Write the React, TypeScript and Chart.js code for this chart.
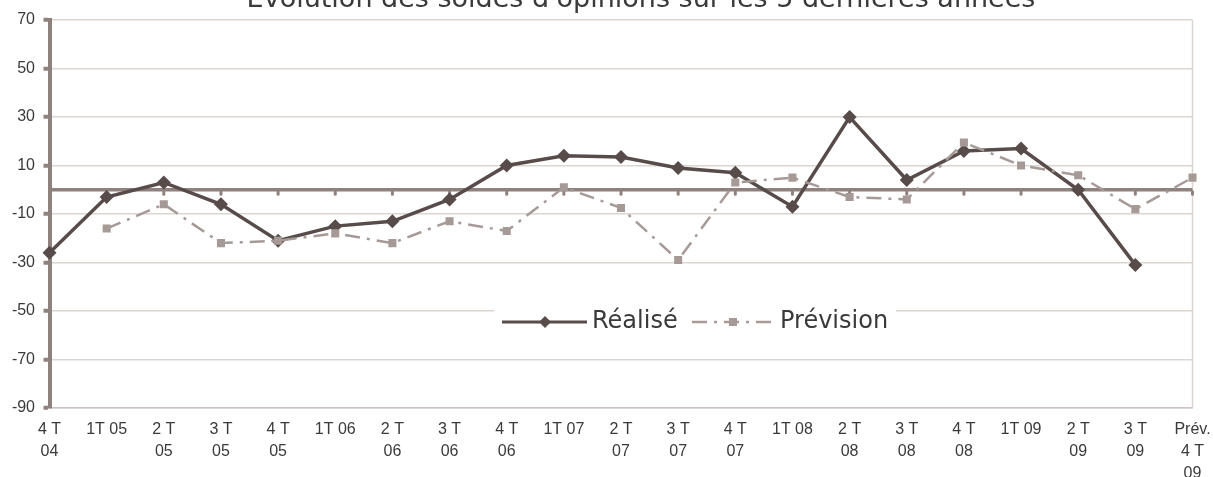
import { useEffect, useRef } from 'react';
import { Chart, registerables } from 'chart.js';

Chart.register(...registerables);

const TITLE = "Evolution des soldes d'opinions sur les 5 dernières années";

const categories: (string | string[])[] = [
  ['4 T', '04'], '1T 05', ['2 T', '05'], ['3 T', '05'], ['4 T', '05'],
  '1T 06', ['2 T', '06'], ['3 T', '06'], ['4 T', '06'],
  '1T 07', ['2 T', '07'], ['3 T', '07'], ['4 T', '07'],
  '1T 08', ['2 T', '08'], ['3 T', '08'], ['4 T', '08'],
  '1T 09', ['2 T', '09'], ['3 T', '09'], ['Prév.', '4 T', '09'],
];

const realise: (number | null)[] = [
  -26, -3, 3, -6, -21, -15, -13, -4, 10, 14, 13.5, 9, 7, -7, 30, 4, 16, 17, 0, -31, null,
];

const prevision: (number | null)[] = [
  null, -16, -6, -22, -21, -18, -22, -13, -17, 1, -7.5, -29, 3, 5, -3, -4, 19.5, 10, 6, -8, 5,
];

const seriesNames = ['Réalisé', 'Prévision'];

const Y_MIN = -90;
const Y_MAX = 70;
const Y_STEP = 20;

const DARK = '#574c49';
const LIGHT = '#a69a97';
const AXIS = '#8f827e';
const GRID = '#dbd5d2';
const TEXT = '#3a3a3a';
const PREV_DASH = [15, 7, 3, 7];

const decorPlugin = {
  id: 'decor',
  beforeDatasetsDraw(chart: any) {
    const { ctx, chartArea, scales } = chart;
    const y0 = scales.y.getPixelForValue(0);
    ctx.save();
    ctx.strokeStyle = GRID;
    ctx.lineWidth = 1.5;
    ctx.beginPath();
    ctx.moveTo(chartArea.right, chartArea.top);
    ctx.lineTo(chartArea.right, chartArea.bottom);
    ctx.stroke();
    ctx.strokeStyle = AXIS;
    ctx.lineWidth = 3.5;
    ctx.beginPath();
    ctx.moveTo(chartArea.left, y0);
    ctx.lineTo(chartArea.right, y0);
    ctx.stroke();
    ctx.lineWidth = 3;
    ctx.lineCap = 'round';
    for (let i = 0; i < categories.length; i++) {
      const x = scales.x.getPixelForValue(i);
      ctx.beginPath();
      ctx.moveTo(x, y0 + 2);
      ctx.lineTo(x, y0 + 4.5);
      ctx.stroke();
    }
    ctx.restore();
  },
  afterDraw(chart: any) {
    const { ctx } = chart;
    ctx.save();
    ctx.fillStyle = TEXT;
    ctx.font = '27px "DejaVu Sans"';
    ctx.textAlign = 'center';
    ctx.textBaseline = 'alphabetic';
    ctx.fillText(TITLE, 641, 7);

    const ly = 322;
    ctx.fillStyle = '#ffffff';
    ctx.fillRect(494, 306, 402, 32);

    ctx.strokeStyle = DARK;
    ctx.lineWidth = 3;
    ctx.beginPath();
    ctx.moveTo(502, ly);
    ctx.lineTo(587, ly);
    ctx.stroke();
    ctx.fillStyle = DARK;
    ctx.beginPath();
    const r = 6;
    ctx.moveTo(545, ly - r);
    ctx.lineTo(545 + r, ly);
    ctx.lineTo(545, ly + r);
    ctx.lineTo(545 - r, ly);
    ctx.closePath();
    ctx.fill();

    ctx.strokeStyle = LIGHT;
    ctx.lineWidth = 2.5;
    ctx.setLineDash(PREV_DASH);
    ctx.beginPath();
    ctx.moveTo(692, ly);
    ctx.lineTo(773, ly);
    ctx.stroke();
    ctx.setLineDash([]);
    ctx.fillStyle = LIGHT;
    ctx.fillRect(733 - 4, ly - 4, 8, 8);

    ctx.fillStyle = TEXT;
    ctx.font = '24px "DejaVu Sans"';
    ctx.textAlign = 'left';
    ctx.textBaseline = 'middle';
    ctx.fillText(seriesNames[0], 592, ly);
    ctx.fillText(seriesNames[1], 780, ly);
    ctx.restore();
  },
};

export default function App() {
  const ref = useRef<HTMLCanvasElement | null>(null);

  useEffect(() => {
    if (!ref.current) return;
    const chart = new Chart(ref.current, {
      type: 'line',
      data: {
        labels: categories as any,
        datasets: [
          {
            label: seriesNames[0],
            data: realise,
            borderColor: DARK,
            backgroundColor: DARK,
            borderWidth: 3.5,
            pointStyle: 'rectRot',
            pointRadius: 7,
            pointBorderWidth: 0,
            tension: 0,
            order: 1,
          },
          {
            label: seriesNames[1],
            data: prevision,
            borderColor: LIGHT,
            backgroundColor: LIGHT,
            borderWidth: 2.5,
            borderDash: PREV_DASH,
            pointStyle: 'rect',
            pointRadius: 5.7,
            pointBorderWidth: 0,
            tension: 0,
            order: 0,
          },
        ],
      },
      options: {
        animation: false,
        responsive: true,
        maintainAspectRatio: false,
        layout: { padding: { top: 20, right: 20.5, left: 0, bottom: 0 } },
        plugins: {
          legend: { display: false },
          title: { display: false },
          tooltip: { enabled: false },
        },
        scales: {
          x: {
            type: 'category',
            offset: false,
            grid: { display: false, drawTicks: false },
            border: { display: true, color: '#cbc3c0', width: 1.5 },
            ticks: {
              autoSkip: false,
              maxRotation: 0,
              minRotation: 0,
              padding: 11,
              color: TEXT,
              font: { family: '"Liberation Sans"', size: 16, lineHeight: 1.36 },
            },
            afterFit: (scale: any) => {
              scale.height = 69;
              scale.paddingLeft = 0;
              scale.paddingRight = 0;
            },
          },
          y: {
            min: Y_MIN,
            max: Y_MAX,
            grid: {
              color: GRID,
              lineWidth: 1.5,
              tickColor: AXIS,
              tickWidth: 4,
              tickLength: 6,
            },
            border: { display: true, color: AXIS, width: 4 },
            ticks: {
              stepSize: Y_STEP,
              padding: 8.5,
              color: TEXT,
              font: { family: '"Liberation Sans"', size: 16 },
            },
            afterFit: (scale: any) => {
              scale.width = 49.5;
            },
          },
        },
      },
      plugins: [decorPlugin],
    });
    return () => chart.destroy();
  }, []);

  return (
    <div style={{ position: 'absolute', left: 0, top: 0, width: 1213, height: 477, background: '#fff' }}>
      <canvas ref={ref} />
    </div>
  );
}
